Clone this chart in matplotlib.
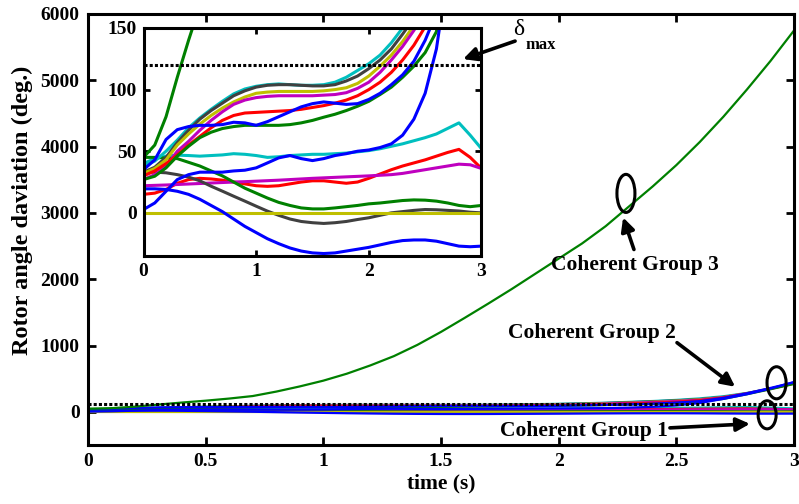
import numpy as np
import matplotlib
matplotlib.use("Agg")
import matplotlib.pyplot as plt
from matplotlib.patches import Ellipse, FancyArrowPatch

plt.rcParams['font.family'] = ['Liberation Serif', 'DejaVu Serif']
plt.rcParams['font.weight'] = 'bold'

# time samples (s)
t = [round(0.1 * i, 1) for i in range(31)]

# ---- Coherent group 1 (stay bounded) ----
C1 = [40, 44, 46, 46.8, 46.5, 46, 46.5, 47, 48, 47.5, 46.5, 45, 45.5, 46.5, 47, 47.5, 47.5, 48, 48.5, 49.5,
      50.5, 52, 54, 56, 58.5, 61, 64, 68.5, 73, 63, 52]
R1 = [15, 16, 19, 24, 27, 28, 27.5, 26.5, 25, 23.5, 22, 21.5, 22, 23.5, 25, 26, 26, 25, 24, 25,
      28, 31.5, 35, 38, 40.5, 43, 46, 49, 51.5, 45, 36]
M1 = [22, 22.3, 22.6, 23, 23.4, 23.8, 24.2, 24.6, 25, 25.3, 25.7, 26.1, 26.5, 27, 27.5, 28, 28.4, 28.8, 29.2, 29.6,
      30, 30.5, 31, 32, 33.5, 35, 36.5, 38, 39.5, 39, 36]
G1 = [45, 45, 44.5, 44, 41, 38, 34, 30, 25, 20, 16, 12, 8.5, 6, 4, 3.2, 3.2, 4, 5, 6,
      7.3, 8, 9, 10, 10.5, 10.3, 9.5, 8, 6, 5, 6]
K1 = [33, 33, 32.5, 31, 29, 26, 21.6, 17.6, 13.5, 9.5, 5.4, 1.4, -2, -5, -7, -8, -8.6, -8, -7, -5.4,
      -4, -2, 0, 1, 2, 2.7, 2.5, 2, 1.5, 0.5, 0]
Y1 = [0] * 31
B1 = [19.5, 19.5, 19, 17.5, 15, 11, 6, 1, -5, -11, -16, -21, -25, -28.5, -31, -32.5, -33, -32.5, -31, -29.5,
      -28, -26, -24, -22.5, -22, -22, -23, -25, -27, -27.5, -27]

# ---- Coherent group 2 (separate late) ----
C2 = [38, 42, 50, 59, 69, 77, 84, 90.5, 96.5, 100.5, 102.7, 104, 104.6, 104, 103.5, 103.5, 104, 106, 110, 115.5,
      121, 128, 138, 150, 163, 180, 203, 235, 285, 350, 430]
K2 = [33, 37, 45, 57, 67, 76, 83, 89, 95, 99, 102, 103.5, 104, 104, 103.5, 103, 103, 104, 107, 111,
      117, 124, 133, 145, 158, 173, 192, 225, 280, 350, 435]
Y2 = [32, 36, 43, 55, 64, 72, 79, 85, 90, 94, 97, 98, 98.5, 98.5, 98.5, 98.5, 99, 100, 101.5, 105,
      111, 119, 128, 139, 152, 167, 188, 222, 282, 352, 432]
M2 = [27, 31, 38, 50, 58, 67, 75, 82, 88, 91.5, 93.5, 94.5, 95, 95, 95, 95, 95.5, 96, 97.5, 101,
      106, 114, 124, 135, 148, 163, 183, 220, 280, 350, 430]
R2 = [30, 34, 40, 47, 55, 62, 69, 75, 79, 81, 81.5, 82, 82.5, 83, 84, 85.5, 87, 89, 91.5, 95,
      100, 106, 114, 124, 136, 151, 175, 215, 275, 345, 425]
G2 = [27, 29.7, 36.5, 46, 54, 61, 65.4, 68.4, 70, 71, 71, 71, 71, 71.6, 73, 75, 77.6, 80, 83, 86.5,
      90.5, 96, 102, 110, 119, 130, 147, 195, 265, 340, 420]
B2 = [35, 43, 59.5, 67.5, 70, 71, 71, 71.6, 73.5, 73, 71, 74, 78, 82, 86, 88.6, 90, 89, 88, 88.6,
      92, 97, 104, 112, 123, 140, 162, 210, 280, 360, 445]
B3 = [2.7, 8, 17.5, 27, 31, 33, 33, 33, 34, 34.6, 36.5, 40.5, 44.6, 46.5, 44, 42.4, 44, 46.5, 48, 50,
      51, 53, 56, 63, 76, 97, 133, 195, 265, 350, 450]

# ---- Coherent group 3 (unstable machine) ----
G3 = [45, 55, 78, 110, 140, 168, 200, 238, 305, 383, 470, 575, 700, 840, 1010, 1205, 1415, 1630, 1850, 2080,
      2310, 2540, 2800, 3100, 3400, 3720, 4070, 4450, 4860, 5290, 5750]

delta_max = 120

mb = (0, 0, 1)
mg = (0, 0.5, 0)
mr = (1, 0, 0)
mc = (0, 0.75, 0.75)
mm = (0.75, 0, 0.75)
my = (0.75, 0.75, 0)
mk = (0.25, 0.25, 0.25)

series = [(C1, mc), (R1, mr), (M1, mm), (G1, mg), (K1, mk), (Y1, my), (B1, mb),
          (C2, mc), (K2, mk), (Y2, my), (M2, mm), (R2, mr), (G2, mg), (B2, mb), (B3, mb),
          (G3, mg)]

fig = plt.figure(figsize=(7.99, 5.04), dpi=100)
ax = fig.add_axes([0.1101, 0.1171, 0.8836, 0.8552])
for ys, c in series:
    ax.plot(t, ys, color=c, lw=1.6, solid_capstyle='round', solid_joinstyle='round')
ax.axhline(delta_max, color='k', lw=2.2, linestyle=(0, (1.0, 0.7)))
ax.set_xlim(0, 3)
ax.set_ylim(-500, 6000)
ax.set_xticks([0, 0.5, 1, 1.5, 2, 2.5, 3])
ax.set_xticklabels(['0', '0.5', '1', '1.5', '2', '2.5', '3'])
ax.set_yticks([0, 1000, 2000, 3000, 4000, 5000, 6000])
ax.tick_params(direction='in', top=True, right=True, length=6, width=2, labelsize=14, pad=6)
for s in ax.spines.values():
    s.set_linewidth(2.2)
ax.set_xlabel('time (s)', fontsize=15.5, fontweight='bold', labelpad=2)
ax.set_ylabel('Rotor angle daviation (deg.)', fontsize=17.5, fontweight='bold')
ax.yaxis.set_label_coords(-0.078, 0.545)

# inset
axi = fig.add_axes([0.1796, 0.4921, 0.4230, 0.4524])
axi.set_facecolor('white')
for ys, c in series:
    axi.plot(t, ys, color=c, lw=2.2, solid_capstyle='round', solid_joinstyle='round')
axi.axhline(delta_max, color='k', lw=2.2, linestyle=(0, (1.0, 0.7)))
axi.set_xlim(0, 3)
axi.set_ylim(-35, 150)
axi.set_xticks([0, 1, 2, 3])
axi.set_yticks([0, 50, 100, 150])
axi.tick_params(direction='in', top=True, right=True, length=4, width=2, labelsize=14, pad=5)
for s in axi.spines.values():
    s.set_linewidth(2.2)

# annotations (main-axes data coordinates)
tr = ax.transData
arrow_kw = dict(arrowstyle='-|>', mutation_scale=20, lw=2.6, color='k', shrinkA=0, shrinkB=0)
for tail, tip in [((2.320, 2448), (2.274, 2931)),
                  ((2.503, 1043), (2.750, 378)),
                  ((2.473, -242), (2.813, -181)),
                  ((1.815, 5591), (1.594, 5319))]:
    fig.add_artist(FancyArrowPatch(tail, tip, transform=tr, **arrow_kw))

for (cx, cy, w, h) in [(2.286, 3294, 0.0765, 574), (2.926, 438, 0.081, 484), (2.886, -45, 0.0765, 423)]:
    fig.add_artist(Ellipse((cx, cy), w, h, transform=tr, fill=False, lw=2.2, edgecolor='k'))

fig.text(2.325, 2221, 'Coherent Group 3', transform=tr, fontsize=15.5, fontweight='bold',
         ha='center', va='center')
fig.text(2.142, 1194, 'Coherent Group 2', transform=tr, fontsize=15.5, fontweight='bold',
         ha='center', va='center')
fig.text(2.108, -287, 'Coherent Group 1', transform=tr, fontsize=15.5, fontweight='bold',
         ha='center', va='center')
fig.text(1.83, 5772, 'δ', transform=tr, fontsize=17, fontweight='normal', ha='center', va='center')
fig.text(1.925, 5530, 'max', transform=tr, fontsize=12, fontweight='bold', ha='center', va='center')

fig.savefig('out.png', dpi=100)
